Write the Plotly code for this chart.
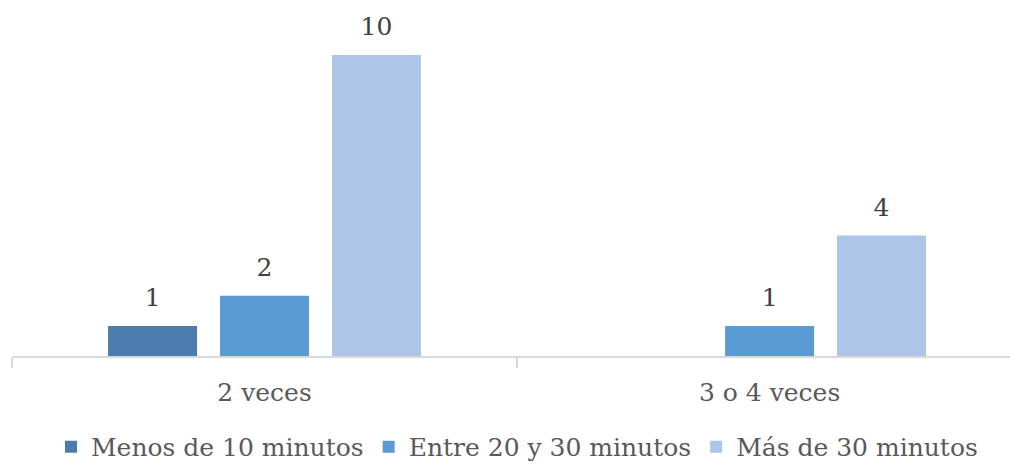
import plotly.graph_objects as go

categories = ["2 veces", "3 o 4 veces"]
series_names = ["Menos de 10 minutos", "Entre 20 y 30 minutos", "Más de 30 minutos"]
menos_10 = [1, None]
entre_20_30 = [2, 1]
mas_30 = [10, 4]
values = [menos_10, entre_20_30, mas_30]
colors = ["#4A7DAB", "#5B9BD5", "#ADC6E7"]

FONT = "DejaVu Serif"
fig = go.Figure()
for i, (name, vals, col) in enumerate(zip(series_names, values, colors)):
    fig.add_trace(go.Bar(
        x=categories, y=vals, name=name,
        marker=dict(color=col, line=dict(width=0)),
        offsetgroup=str(i), hoverinfo="skip",
    ))
for i, vals in enumerate(values):
    fig.add_trace(go.Scatter(
        x=categories, y=vals,
        text=[str(v) if v is not None else "" for v in vals],
        mode="markers+text", textposition="top center",
        marker=dict(size=20, opacity=0),
        textfont=dict(family=FONT, size=25, color="#404040"),
        offsetgroup=str(i), showlegend=False, hoverinfo="skip", cliponaxis=False,
    ))

fig.update_layout(
    width=1010, height=468,
    margin=dict(l=12, r=0, t=10, b=112, autoexpand=False),
    paper_bgcolor="white", plot_bgcolor="white",
    barmode="group", bargap=0.335, bargroupgap=0.205,
    scattermode="group", scattergap=0.335,
    font=dict(family=FONT, size=25, color="#595959"),
    showlegend=True,
    legend=dict(orientation="h", x=0.506, xanchor="center", y=-0.263, yanchor="middle",
                font=dict(family=FONT, size=25, color="#595959"),
                itemwidth=30, traceorder="normal"),
    xaxis=dict(type="category", range=[-0.5, 1.476], showline=True, linecolor="#D9D9D9",
               linewidth=2, ticks="outside", tickson="boundaries", ticklen=10,
               tickcolor="#D9D9D9", tickwidth=1.5, showgrid=False, zeroline=False,
               automargin=False, ticklabelstandoff=13,
               tickfont=dict(family=FONT, size=25, color="#595959")),
    yaxis=dict(range=[0, 11.495], visible=False, showgrid=False, zeroline=False),
)
fig.write_html("out.html", config={"displayModeBar": False},
               post_script="document.body.style.margin='0';document.body.style.padding='0';")
